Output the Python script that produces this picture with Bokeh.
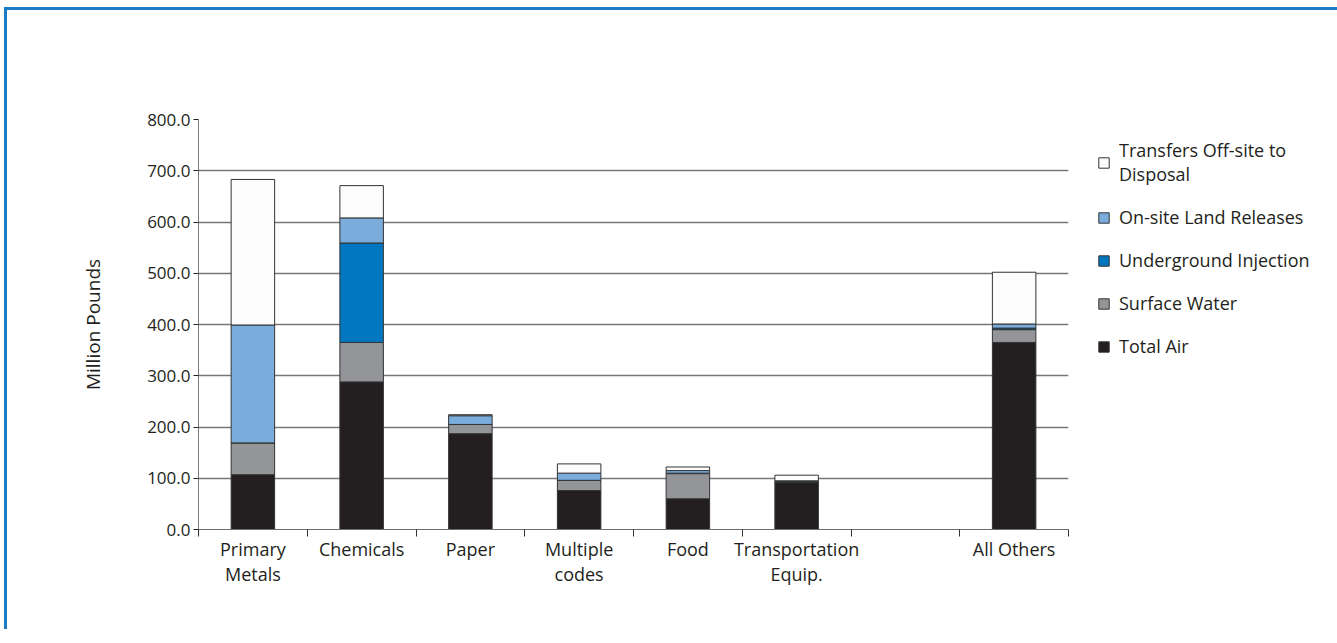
from bokeh.plotting import figure
from bokeh.models import (ColumnDataSource, FixedTicker, Legend, LegendItem,
                          NumeralTickFormatter, Range1d)
from bokeh.embed import file_html
from bokeh.resources import INLINE

# ---- data (million pounds) ----
categories = ["Primary\nMetals", "Chemicals", "Paper", "Multiple\ncodes", "Food",
              "Transportation\nEquip.", "", "All Others"]
total_air = [107, 288, 187, 76, 60, 92, 0, 365]
surface_water = [62, 77, 18, 20, 49, 1, 0, 25]
underground_injection = [0, 194, 0, 0, 1, 2, 0, 3]
land_releases = [230, 49, 17, 14, 5, 0, 0, 8]
transfers_disposal = [284, 63, 2, 18, 7, 11, 0, 101]

series_names = ["Total Air", "Surface Water", "Underground Injection",
                "On-site Land Releases", "Transfers Off-site to\nDisposal"]
series_keys = ["air", "sw", "ui", "land", "tr"]
colors = ["#231f20", "#939598", "#0077c0", "#7aacdc", "#fcfcfc"]
y_ticks = [0, 100, 200, 300, 400, 500, 600, 700, 800]

FONT = "Open Sans"

centers = [i + 0.5 for i in range(len(categories))]
boundaries = [float(i) for i in range(len(categories) + 1)]

keep = [i for i in range(len(categories))
        if total_air[i] + surface_water[i] + underground_injection[i]
        + land_releases[i] + transfers_disposal[i] > 0]
source = ColumnDataSource(dict(
    x=[centers[i] for i in keep],
    air=[total_air[i] for i in keep],
    sw=[surface_water[i] for i in keep],
    ui=[underground_injection[i] for i in keep],
    land=[land_releases[i] for i in keep],
    tr=[transfers_disposal[i] for i in keep],
))

p = figure(output_backend="svg", toolbar_location=None,
           frame_width=870, frame_height=410,
           min_border_left=198, min_border_right=255,
           min_border_top=119, min_border_bottom=100,
           x_range=Range1d(0, len(categories)), y_range=Range1d(0, 800))
p.styles = {"box-shadow": "inset 4px 7px 0 0 #ffffff, inset 7px 10px 0 0 #1b7bc4"}
p.outline_line_color = None
p.background_fill_color = "white"
p.border_fill_color = None

renderers = p.vbar_stack(series_keys, x="x", width=0.4, source=source,
                         fill_color=colors, line_color="#333333", line_width=1)

# axes
xa = p.xaxis[0]
xa.ticker = FixedTicker(ticks=centers, minor_ticks=boundaries)
xa.major_label_overrides = {c: lab for c, lab in zip(centers, categories)}
xa.major_tick_line_color = None
xa.major_tick_out = 0
xa.major_tick_in = 0
xa.minor_tick_out = 7
xa.minor_tick_in = 0
xa.minor_tick_line_color = "#333333"
xa.axis_line_color = "#6d6d6d"
xa.major_label_text_font = FONT
xa.major_label_text_font_size = "18px"
xa.major_label_text_color = "#231f20"
xa.major_label_text_line_height = 1.05
xa.major_label_standoff = 0

ya = p.yaxis[0]
ya.ticker = FixedTicker(ticks=y_ticks)
ya.formatter = NumeralTickFormatter(format="0.0")
ya.minor_tick_line_color = None
ya.major_tick_out = 5
ya.major_tick_in = 0
ya.major_tick_line_color = "#222222"
ya.axis_line_color = "#7a7a7a"
ya.major_label_text_font = FONT
ya.major_label_text_font_size = "17px"
ya.major_label_text_color = "#231f20"
ya.major_label_standoff = 3
ya.axis_label = "Million Pounds"
ya.axis_label_text_font = FONT
ya.axis_label_text_font_size = "19px"
ya.axis_label_text_font_style = "normal"
ya.axis_label_text_color = "#231f20"
ya.axis_label_standoff = 38

p.xgrid.visible = False
p.ygrid.ticker = FixedTicker(ticks=y_ticks)
p.ygrid.grid_line_color = "#777777"
p.ygrid.grid_line_width = 1.3

items = [LegendItem(label=n, renderers=[r]) for n, r in zip(series_names, renderers)]
items = items[::-1]
legend = Legend(items=items, location=(29, 171), orientation="vertical")
legend.label_text_font = FONT
legend.label_text_font_size = "18px"
legend.label_text_color = "#231f20"
legend.glyph_width = 13
legend.glyph_height = 13
legend.label_standoff = 9
legend.spacing = 19
legend.padding = 0
legend.margin = 0
legend.border_line_color = None
legend.background_fill_alpha = 0
p.add_layout(legend, "right")

open("out.html", "w").write(file_html(p, INLINE))
